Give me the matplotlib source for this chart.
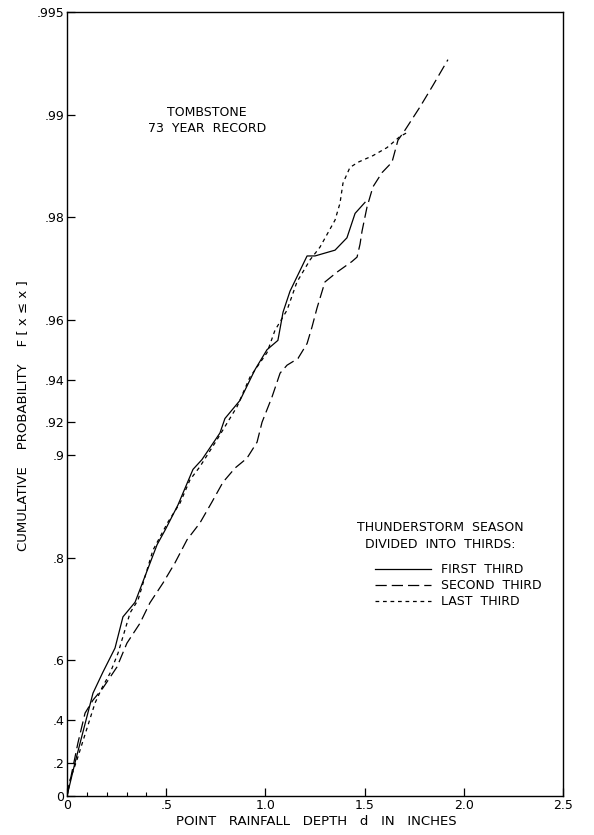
import numpy as np
import matplotlib
matplotlib.use('Agg')
import matplotlib.pyplot as plt
from matplotlib.ticker import FixedLocator, FixedFormatter

# Depth (inches) and cumulative probability
first_d = [0.0, 0.040, 0.131, 0.181, 0.242, 0.282, 0.343, 0.454, 0.494,
           0.559, 0.635, 0.680, 0.771, 0.796, 0.872, 0.948, 1.008, 1.063,
           1.089, 1.124, 1.210, 1.250, 1.351, 1.411, 1.452, 1.502]
first_p = [0.0, 0.200, 0.501, 0.567, 0.632, 0.702, 0.730, 0.817, 0.834,
           0.860, 0.890, 0.897, 0.914, 0.922, 0.931, 0.944, 0.951, 0.954,
           0.962, 0.967, 0.974, 0.974, 0.975, 0.977, 0.9805, 0.9819]

second_d = [0.0, 0.055, 0.091, 0.131, 0.181, 0.252, 0.302, 0.368, 0.418,
            0.484, 0.544, 0.605, 0.670, 0.731, 0.786, 0.847, 0.907, 0.958,
            0.983, 1.033, 1.074, 1.109, 1.164, 1.210, 1.235, 1.260, 1.300,
            1.361, 1.436, 1.462, 1.477, 1.487, 1.512, 1.542, 1.588, 1.638,
            1.668, 1.704, 1.779, 1.845, 1.920]
second_p = [0.0, 0.301, 0.429, 0.477, 0.518, 0.582, 0.644, 0.689, 0.729,
            0.763, 0.793, 0.823, 0.842, 0.863, 0.880, 0.891, 0.898, 0.9085,
            0.920, 0.9325, 0.9426, 0.9456, 0.948, 0.953, 0.958, 0.963, 0.969,
            0.971, 0.973, 0.9738, 0.976, 0.978, 0.9813, 0.9837, 0.9852, 0.9862,
            0.9881, 0.9889, 0.9905, 0.9918, 0.9931]

last_d = [0.0, 0.015, 0.050, 0.141, 0.176, 0.217, 0.257, 0.318, 0.358,
          0.433, 0.509, 0.570, 0.620, 0.670, 0.756, 0.857, 0.922, 1.008,
          1.048, 1.109, 1.159, 1.225, 1.275, 1.351, 1.376, 1.391, 1.426,
          1.467, 1.542, 1.613, 1.678, 1.714]
last_p = [0.0, 0.102, 0.216, 0.466, 0.518, 0.564, 0.619, 0.710, 0.734,
          0.810, 0.843, 0.862, 0.882, 0.892, 0.910, 0.928, 0.941, 0.950,
          0.957, 0.9625, 0.969, 0.9733, 0.9755, 0.9796, 0.9818, 0.9841,
          0.9857, 0.9862, 0.9868, 0.9875, 0.9884, 0.9887]

yticks = [0, .2, .4, .6, .8, .9, .92, .94, .96, .98, .99, .995]
ytick_labels = ['0', '.2', '.4', '.6', '.8', '.9', '.92', '.94', '.96',
                '.98', '.99', '.995']
xticks = [0, 0.5, 1.0, 1.5, 2.0, 2.5]
xtick_labels = ['0', '.5', '1.0', '1.5', '2.0', '2.5']


def fwd(p):
    # exponential probability paper: -ln(1 - F)
    p = np.clip(np.asarray(p, dtype=float), -0.5, 0.99999)
    return -np.log(1 - p)


def inv(t):
    return 1 - np.exp(-np.asarray(t, dtype=float))


plt.rcParams['font.family'] = ['DejaVu Sans']
FS = 9

fig = plt.figure(figsize=(5.94, 8.35), dpi=100)
ax = fig.add_axes([67 / 594, 39 / 835, 496 / 594, 784 / 835])
ax.set_yscale('function', functions=(fwd, inv))

lw = 0.9
ax.plot(first_d, first_p, color='black', lw=lw, label='FIRST  THIRD')
ax.plot(second_d, second_p, color='black', lw=lw, dashes=(9, 4),
        label='SECOND  THIRD')
ax.plot(last_d, last_p, color='black', lw=lw, dashes=(3, 3),
        label='LAST  THIRD')

ax.set_xlim(0, 2.5)
ax.set_ylim(0, 0.995)

ax.yaxis.set_major_locator(FixedLocator(yticks))
ax.yaxis.set_major_formatter(FixedFormatter(ytick_labels))
ax.yaxis.set_minor_locator(FixedLocator([]))
ax.xaxis.set_major_locator(FixedLocator(xticks))
ax.xaxis.set_major_formatter(FixedFormatter(xtick_labels))
ax.xaxis.set_minor_locator(FixedLocator([0.1, 0.2, 0.3, 0.4]))
ax.tick_params(which='major', direction='in', length=6, width=0.9,
               labelsize=FS, pad=2)
ax.tick_params(which='minor', direction='in', length=3, width=0.8)
ax.tick_params(top=False, right=False)
for s in ax.spines.values():
    s.set_linewidth(1.0)

ax.set_xlabel('POINT   RAINFALL   DEPTH   d   IN   INCHES', fontsize=9.5)
ax.xaxis.set_label_coords((316 - 67) / 496, (796 - 815) / 784)
ax.set_ylabel('CUMULATIVE    PROBABILITY    F [ x \u2264 x ]', fontsize=9.5)
ax.yaxis.set_label_coords((29 - 67) / 496, (796 - 416) / 784)

fig.text(207 / 594, 1 - 121 / 835, 'TOMBSTONE\n73  YEAR  RECORD',
         ha='center', va='center', fontsize=FS, linespacing=1.3)

fig.text(440 / 594, 1 - 536 / 835,
         'THUNDERSTORM  SEASON\nDIVIDED  INTO  THIRDS:',
         ha='center', va='center', fontsize=FS, linespacing=1.4)
leg = ax.legend(loc='upper left', bbox_to_anchor=(370 / 594, 1 - 558 / 835),
                bbox_transform=fig.transFigure, frameon=False, fontsize=FS,
                handlelength=4.5, handletextpad=0.8, labelspacing=0.25,
                borderaxespad=0)

fig.savefig('out.png', dpi=100)
